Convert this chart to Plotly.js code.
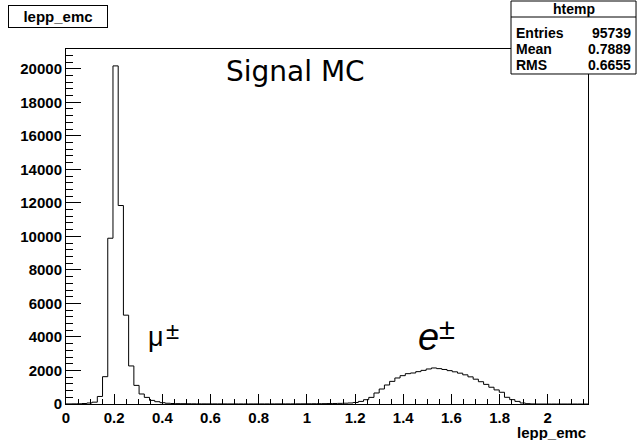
<!DOCTYPE html>
<html>
<head>
<meta charset="utf-8">
<script src="https://cdn.plot.ly/plotly-3.0.1.min.js"></script>
<style>html,body{margin:0;padding:0;background:#fff;}#chart{width:637px;height:440px;}</style>
</head>
<body>
<div id="chart"></div>
<script>
// Histogram definition (ROOT htemp of lepp_emc)
const nBins = 100;
const xMin = 0;
const xMax = 2.167;
const counts = [
  5, 10, 15, 30, 60, 110, 450, 1630, 9890, 20170,
  11840, 5300, 2270, 1110, 597, 394, 215, 137, 78, 45,
  30, 22, 18, 15, 12, 10, 9, 8, 8, 7,
  7, 6, 6, 6, 6, 6, 6, 6, 7, 7,
  8, 8, 9, 10, 11, 12, 14, 16, 19, 22,
  26, 31, 38, 47, 60, 90, 155, 257, 395, 657,
  895, 1134, 1350, 1552, 1690, 1810, 1850, 1930, 2006, 2090,
  2150, 2110, 2060, 1990, 1920, 1840, 1740, 1620, 1480, 1330,
  1170, 1000, 840, 700, 400, 260, 155, 60, 20, 6,
  0, 0, 0, 0, 0, 0, 0, 0, 0, 0
];
const xTickVals = [0, 0.2, 0.4, 0.6, 0.8, 1, 1.2, 1.4, 1.6, 1.8, 2];
const xTickText = ['0', '0.2', '0.4', '0.6', '0.8', '1', '1.2', '1.4', '1.6', '1.8', '2'];
const yTickVals = [0, 2000, 4000, 6000, 8000, 10000, 12000, 14000, 16000, 18000, 20000];
const yTickText = ['0', '2000', '4000', '6000', '8000', '10000', '12000', '14000', '16000', '18000', '20000'];
const statsLabels = ['Entries', 'Mean', 'RMS'];
const statsValues = ['95739', '0.7889', '0.6655'];
const histName = 'htemp';
const varName = 'lepp_emc';

// step outline from bin edges
const bw = (xMax - xMin) / nBins;
const sx = [xMin], sy = [0];
for (let i = 0; i < nBins; i++) { sx.push(xMin + i * bw); sy.push(counts[i]); }
sx.push(xMax); sy.push(0);

const yMax = 1.05 * Math.max(...counts);

const fam = 'Liberation Sans, Arial, sans-serif';
const boldFont = {family: fam, size: 15, color: '#000', weight: 'bold'};
const statFont = {family: fam, size: 14, color: '#000', weight: 'bold'};

const trace = {
  x: sx, y: sy, type: 'scatter', mode: 'lines',
  line: {shape: 'hv', color: '#000', width: 1},
  hoverinfo: 'skip', showlegend: false
};

// stats box geometry in paper units
const sbX0 = 0.8525, sbX1 = 1.092, sbY0 = 0.9296, sbY1 = 1.1352, sbSep = 1.0901;
const rowY = [1.0451, 1.0, 0.9549];

function label(x, y, text, font, xa) {
  return {xref: 'paper', yref: 'paper', x: x, y: y, text: text, showarrow: false,
          font: font, xanchor: xa || 'center', yanchor: 'middle'};
}

const annotations = [
  Object.assign(label(-0.0153, 1.0915, varName, boldFont),
    {bordercolor: '#000', borderwidth: 1, bgcolor: '#fff', width: 96, height: 19}),
  label(1.0, -0.079, varName, boldFont, 'right'),
  label(0.439, 0.938, 'Signal MC', {family: 'DejaVu Sans, sans-serif', size: 28, color: '#000'}),
  label(0.1724, 0.19, 'μ', {family: fam, size: 27, color: '#000'}),
  label(0.204, 0.208, '±', {family: fam, size: 24, color: '#000'}),
  label(0.6945, 0.188, '<i>e</i>', {family: fam, size: 38, color: '#000'}),
  label(0.7305, 0.212, '±', {family: fam, size: 29, color: '#000'}),
  label((sbX0 + sbX1) / 2, (sbSep + sbY1) / 2, histName, statFont)
];
for (let i = 0; i < statsLabels.length; i++) {
  annotations.push(label(sbX0 + 0.006, rowY[i], statsLabels[i], statFont, 'left'));
  annotations.push(label(sbX1 - 0.006, rowY[i], statsValues[i], statFont, 'right'));
}

const layout = {
  width: 637, height: 440,
  margin: {l: 66, r: 49, t: 49, b: 36, pad: 0},
  paper_bgcolor: '#fff', plot_bgcolor: '#fff',
  showlegend: false,
  xaxis: {
    range: [xMin, xMax], tickvals: xTickVals, ticktext: xTickText,
    ticks: 'inside', ticklen: 10, tickcolor: '#000', tickwidth: 1,
    minor: {dtick: 0.05, tick0: 0, ticks: 'inside', ticklen: 5, tickcolor: '#000', tickwidth: 1},
    showline: true, linecolor: '#000', linewidth: 1, mirror: true,
    showgrid: false, zeroline: false, tickfont: boldFont, fixedrange: true
  },
  yaxis: {
    range: [0, yMax], tickvals: yTickVals, ticktext: yTickText,
    ticks: 'inside', ticklen: 15, tickcolor: '#000', tickwidth: 1,
    minor: {dtick: 400, tick0: 0, ticks: 'inside', ticklen: 7, tickcolor: '#000', tickwidth: 1},
    showline: true, linecolor: '#000', linewidth: 1, mirror: true,
    showgrid: false, zeroline: false, tickfont: boldFont, fixedrange: true
  },
  shapes: [
    {type: 'rect', xref: 'paper', yref: 'paper', x0: sbX0, x1: sbX1, y0: sbY0, y1: sbY1,
     line: {color: '#000', width: 1}, fillcolor: '#fff', layer: 'above'},
    {type: 'line', xref: 'paper', yref: 'paper', x0: sbX0, x1: sbX1, y0: sbSep, y1: sbSep,
     line: {color: '#000', width: 1}, layer: 'above'}
  ],
  annotations: annotations
};

Plotly.newPlot('chart', [trace], layout, {staticPlot: true, displayModeBar: false});
</script>
</body>
</html>
